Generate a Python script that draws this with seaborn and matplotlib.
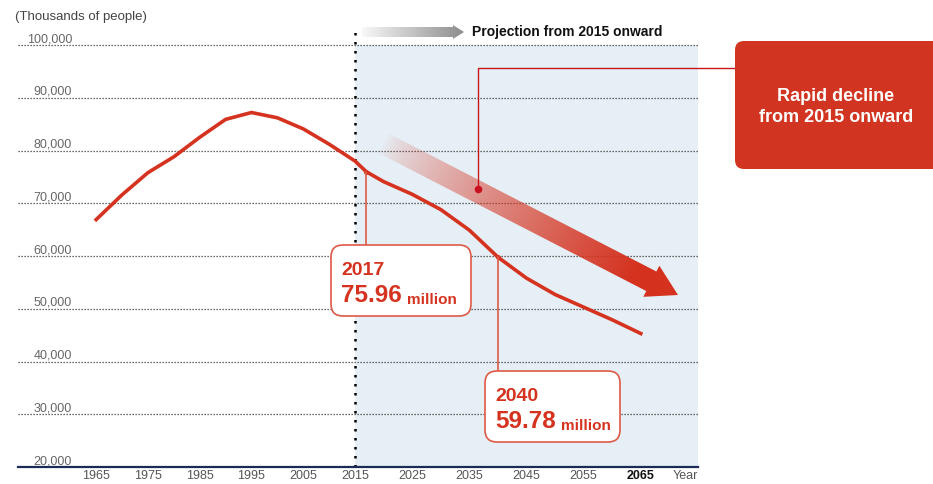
import numpy as np
import pandas as pd
import matplotlib
matplotlib.use("Agg")
import matplotlib.pyplot as plt
import matplotlib.transforms as mtransforms
import seaborn as sns
from matplotlib.patches import FancyBboxPatch, Polygon

# ---------------- data ----------------
years = [1965, 1970, 1975, 1980, 1985, 1990, 1995, 2000, 2005, 2010, 2015, 2017,
         2020, 2025, 2030, 2035, 2040, 2045, 2050, 2055, 2060, 2065]
population = [66900, 71600, 75800, 78800, 82500, 85900, 87200, 86200, 84100, 81200,
              78000, 75960, 74100, 71700, 68800, 64900, 59780, 55800, 52700, 50300,
              47900, 45300]

y_ticks = [20000, 30000, 40000, 50000, 60000, 70000, 80000, 90000, 100000]
y_tick_labels = ["20,000", "30,000", "40,000", "50,000", "60,000", "70,000",
                 "80,000", "90,000", "100,000"]
x_ticks = [1965, 1975, 1985, 1995, 2005, 2015, 2025, 2035, 2045, 2055, 2065]
x_tick_labels = ["1965", "1975", "1985", "1995", "2005", "2015", "2025", "2035",
                 "2045", "2055", "2065"]

highlight_years = [2017, 2040]
highlight_values = [75960, 59780]
highlight_year_labels = ["2017", "2040"]
highlight_value_labels = ["75.96", "59.78"]

projection_start = 2015
unit_label = "(Thousands of people)"
axis_x_label = "Year"
projection_label = "Projection from 2015 onward"
callout_label = "Rapid decline\nfrom 2015 onward"

# ---------------- style ----------------
RED = "#d5321f"
BOX_RED = "#d13420"
SHADE = "#e6eff5"
W, H = 933, 484

plt.rcParams["font.family"] = ["Liberation Sans", "DejaVu Sans"]

fig = plt.figure(figsize=(W / 100, H / 100), dpi=100)
fig.patch.set_facecolor("white")
ax = fig.add_axes([18 / W, 17 / H, 680 / W, 422 / H])

# piecewise-linear year scale (projection period is drawn wider)
BK_YEARS = np.array([1900.0, 2015.0, 2100.0])
BK_POS = np.array([355 - 115 * 5.18, 355.0, 355 + 85 * 5.72])


def fwd(x):
    return np.interp(np.asarray(x, dtype=float), BK_YEARS, BK_POS)


def inv(p):
    return np.interp(np.asarray(p, dtype=float), BK_POS, BK_YEARS)


ax.set_xscale("function", functions=(fwd, inv))

df = pd.DataFrame({"year": years, "population": population})

ax.axvspan(projection_start, 2075, color=SHADE, lw=0, zorder=0)
for v in y_ticks[1:]:
    ax.axhline(v, color="#3a3a3a", lw=0.9, ls=(0, (1, 1.4)), zorder=1, clip_on=False)

sns.lineplot(data=df, x="year", y="population", ax=ax, color=RED, lw=2.6,
             legend=False, zorder=3)
ax.scatter(highlight_years, highlight_values, s=12, color=RED, zorder=4, lw=0)

ax.set_xlim(1949.9, 2075)
ax.set_ylim(20000, 100000)

ax.plot([projection_start, projection_start], [20000, 103200], color="black",
        lw=1.8, ls=(0, (1, 2.6)), clip_on=False, zorder=2)

for s in ["top", "left", "right"]:
    ax.spines[s].set_visible(False)
ax.spines["bottom"].set_color("#1c2b55")
ax.spines["bottom"].set_linewidth(1.6)
ax.set_facecolor("white")

ax.set_xticks(x_ticks)
ax.set_xticklabels(x_tick_labels)
ax.tick_params(axis="x", length=0, pad=2.5, labelsize=9, labelcolor="#555555")
for lab in ax.get_xticklabels():
    if lab.get_text() == x_tick_labels[-1]:
        lab.set_fontweight("bold")
        lab.set_color("#111111")
ax.set_yticks([])
ax.set_xlabel("")
ax.set_ylabel("")

ytrans = mtransforms.blended_transform_factory(ax.transAxes, ax.transData)
for v, lab in zip(y_ticks, y_tick_labels):
    ax.annotate(lab, xy=(0.0794, v), xycoords=ytrans, xytext=(0, 2),
                textcoords="offset points", ha="right", va="baseline",
                fontsize=9, color="#666666", annotation_clip=False)

fig.text(15 / W, 1 - 17 / H, unit_label, fontsize=9.5, color="#444444",
         ha="left", va="center")
xtrans = mtransforms.blended_transform_factory(fig.transFigure, ax.transAxes)
ax.annotate(axis_x_label, xy=(685 / W, 0), xycoords=xtrans, xytext=(0, -2.5),
            textcoords="offset points", fontsize=9, color="#555555",
            ha="center", va="top", annotation_clip=False)

# ---------------- overlay (pixel coordinates) ----------------
ov = fig.add_axes([0, 0, 1, 1])
ov.set_xlim(0, W)
ov.set_ylim(H, 0)
ov.axis("off")
ov.set_zorder(5)


def pix(x, y):
    d = ax.transData.transform((x, y))
    return d[0], H - d[1]


def gradient_poly(pts, start, end, rgb, alpha_fn):
    pts = np.asarray(pts)
    xmin, ymin = pts.min(axis=0) - 1
    xmax, ymax = pts.max(axis=0) + 1
    nx, ny = int(xmax - xmin) * 2, int(ymax - ymin) * 2
    X, Y = np.meshgrid(np.linspace(xmin, xmax, nx), np.linspace(ymin, ymax, ny))
    d = np.asarray(end) - np.asarray(start)
    L = np.hypot(*d)
    u = d / L
    t = np.clip(((X - start[0]) * u[0] + (Y - start[1]) * u[1]) / L, 0, 1)
    img = np.zeros((ny, nx, 4))
    img[..., 0], img[..., 1], img[..., 2] = rgb
    img[..., 3] = alpha_fn(t)
    poly = Polygon(pts, closed=True, facecolor="none", edgecolor="none")
    ov.add_patch(poly)
    im = ov.imshow(img, extent=(xmin, xmax, ymin, ymax), origin="lower",
                   aspect="auto", interpolation="bilinear", zorder=2)
    im.set_clip_path(poly)


# big gradient arrow
S = np.array([383.0, 143.0])
T = np.array([678.0, 295.0])
Lr = np.hypot(*(T - S))
u = (T - S) / Lr
n = np.array([-u[1], u[0]])
head_len, shaft_hw, head_hw = 30, 11, 17.5
local = [(0, -shaft_hw), (Lr - head_len, -shaft_hw), (Lr - head_len, -head_hw),
         (Lr, 0), (Lr - head_len, head_hw), (Lr - head_len, shaft_hw), (0, shaft_hw)]
arrow_pts = [S + a * u + b * n for a, b in local]
gradient_poly(arrow_pts, S, T, matplotlib.colors.to_rgb(RED),
              lambda t: np.clip(t / 0.85, 0, 1) ** 0.75)

# gray projection arrow
gpts = [(362, 27), (453, 27), (453, 25), (464, 32), (453, 39), (453, 37), (362, 37)]
gradient_poly(gpts, (362, 32), (464, 32), matplotlib.colors.to_rgb("#8c8c8c"),
              lambda t: 0.06 + 0.94 * t)
ov.text(472, 32, projection_label, fontsize=10, fontweight="bold", color="#111111",
        ha="left", va="center")

# callout box with connector
ov.plot([478, 478, 735], [189, 68, 68], color="#c8161d", lw=1.0, zorder=3)
ov.scatter([478], [189], s=30, color="#c8101e", zorder=4, lw=0)
ov.add_patch(FancyBboxPatch((735, 41), 230, 128,
                            boxstyle="round,pad=0,rounding_size=9",
                            fc=BOX_RED, ec="none", zorder=3, clip_on=False))
ov.text(836, 107, callout_label, fontsize=13, fontweight="bold", color="white",
        ha="center", va="center", linespacing=1.25, zorder=4)

# value annotation boxes
boxes = [(331, 245, 140, 71), (485, 371, 135, 71)]
for (bx, by, bw, bh), yr, val, ylab, vlab in zip(
        boxes, highlight_years, highlight_values,
        highlight_year_labels, highlight_value_labels):
    mx, my = pix(yr, val)
    ov.plot([mx, mx], [my, by], color="#df5a46", lw=1.2, zorder=3)
    ov.add_patch(FancyBboxPatch((bx, by), bw, bh,
                                boxstyle="round,pad=0,rounding_size=12",
                                fc="white", ec="#df5a46", lw=1.2, zorder=3))
    tx = bx + 10
    ov.text(tx, by + 30, ylab, fontsize=14, fontweight="bold", color=RED,
            ha="left", va="baseline", zorder=4)
    t = ov.text(tx, by + 57, vlab, fontsize=17.5, fontweight="bold", color=RED,
                ha="left", va="baseline", zorder=4)
    ov.annotate("million", xy=(1, 0), xycoords=t, xytext=(4, 0),
                textcoords="offset points", fontsize=11, fontweight="bold",
                color=RED, ha="left", va="bottom", zorder=4)

fig.savefig("out.png", dpi=100)
